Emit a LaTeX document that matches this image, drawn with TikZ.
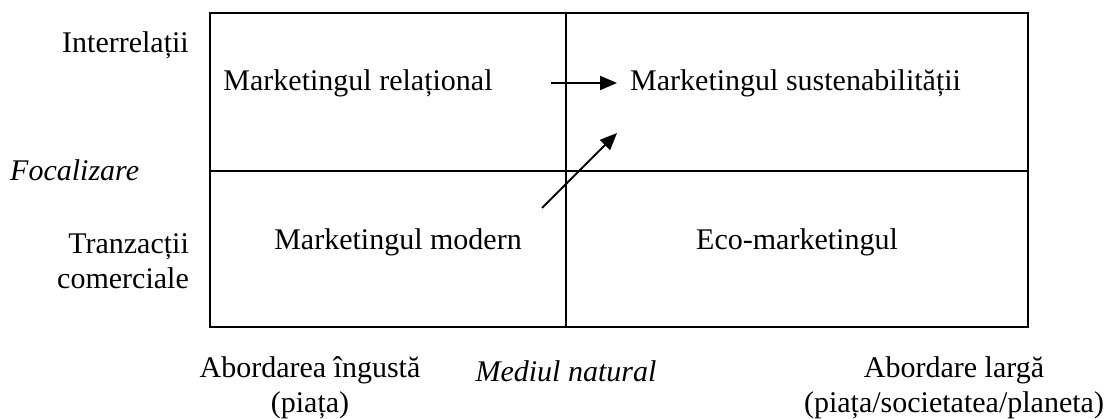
\documentclass[tikz,border=0pt]{standalone}
\usepackage{fontspec}
\setmainfont{Liberation Serif}
\usetikzlibrary{arrows.meta, positioning}

\begin{document}
\begin{tikzpicture}[x=1pt, y=-1pt,
    every node/.style={font=\fontsize{30}{35}\selectfont, inner sep=0pt},
    sageata/.style={line width=2pt, -{Triangle[length=17pt, width=14pt]}}]

    \useasboundingbox (0,0) rectangle (1106,419);

    % =================================================================
    % 1. CADRUL SI CADRANELE
    % =================================================================
    \draw[line width=2pt] (210,13) rectangle (1028,327);
    \draw[line width=2pt] (566,13) -- (566,327);
    \draw[line width=1.3pt] (210,171) -- (1028,171);

    % =================================================================
    % 2. TEXTELE DIN CADRANE
    % =================================================================
    \node (relational) at (358,83) {Marketingul relațional};
    \node[anchor=west] (sustenabil) at (630,83) {Marketingul sustenabilității};
    \node (modern) at (398,242) {Marketingul modern};
    \node (eco) at (797,242) {Eco-marketingul};

    % =================================================================
    % 3. SAGETILE
    % =================================================================
    \coordinate (startH) at (551,83);
    \coordinate (endH) at (617,83);
    \coordinate (startD) at (542,208);
    \coordinate (endD) at (617,133);
    \draw[sageata] (startH) -- (endH);
    \draw[sageata] (startD) -- (endD);

    % =================================================================
    % 4. ETICHETELE AXELOR
    % =================================================================
    \node[anchor=east] (interrel) at (189,45) {Interrelații};
    \node[anchor=west] (focal) at (10,170) {\itshape Focalizare};
    \node[anchor=east, align=right] (tranz) at (189,261) {Tranzacții\\comerciale};

    \node[align=center] (ingusta) at (310,388) {Abordarea îngustă\\(piața)};
    \node (mediu) at (566,371) {\itshape Mediul natural};
    \node[align=center] (larga) at (954,388) {Abordare largă\\(piața/societatea/planeta)};

\end{tikzpicture}
\end{document}
